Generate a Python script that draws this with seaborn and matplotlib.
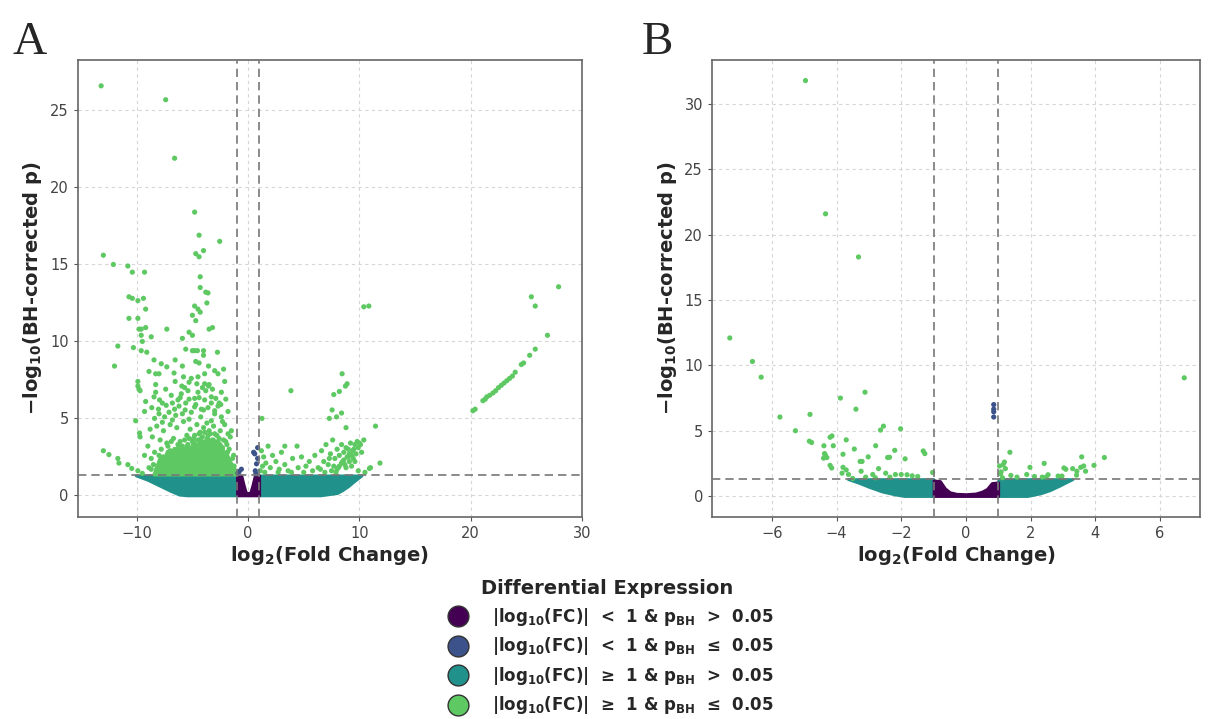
import numpy as np
import pandas as pd
import matplotlib
matplotlib.use("Agg")
import matplotlib.pyplot as plt
from matplotlib.lines import Line2D
import seaborn as sns

sns.set_theme(style="ticks")
plt.rcParams['font.family'] = ['DejaVu Sans']
plt.rcParams['mathtext.default'] = 'bf'

# ---------------- categories / colours ----------------
categories = ["ns_small", "sig_small", "ns_large", "sig_large"]
colors = ["#440154", "#3b528b", "#21918c", "#5ec962"]
legend_labels = [
    "|log$_{10}$(FC)|  <  1 & p$_{BH}$  >  0.05",
    "|log$_{10}$(FC)|  <  1 & p$_{BH}$  \u2264  0.05",
    "|log$_{10}$(FC)|  \u2265  1 & p$_{BH}$  >  0.05",
    "|log$_{10}$(FC)|  \u2265  1 & p$_{BH}$  \u2264  0.05",
]
p_threshold_line = 1.301  # -log10(0.05)
fc_threshold = 1.0

# ---------------- Panel A data ----------------
a_green_x = [-13.2, -7.4, -6.6, -4.8, -4.4, -2.55, -4.0, -4.7, -4.4, -13.0, -12.1, -10.8, -10.4, -9.3,
             -4.3, -4.3, -3.8, -3.6, -10.7, -10.4, -9.9, -9.4, -3.7, -4.8, -9.2, -4.5, -4.3, -5.0, -4.7,
             -10.7, -9.9, -3.5, -3.2, -7.3, -9.8, -9.6, -9.2, -9.6, -11.7, -10.3, -9.5, -8.7, -5.9, -5.3,
             -5.0, -9.6, -9.1, -5.6, -5.0, -4.8, -4.55, -4.0, -4.0, -2.75, -4.7, -4.4, -12.0, -8.45, -7.8,
             -7.3, -6.55, -5.9, -3.55, -3.0, -2.2, -8.9, -8.3, -8.0, -6.65, -5.8, -5.1, -4.5, -3.9, -2.7,
             -2.1, -9.9, -9.9, -9.8, -9.7, -8.3, -6.55, -5.95, -5.3, -4.6, -3.9, -3.55, -2.4, -2.0, -9.2,
             -8.45, -7.95, -6.9, -6.1, -5.3, -4.4, -3.3, -2.45, -9.3, -8.65, -8.05, -7.35, -6.6, -5.65,
             -4.8, -4.0, -3.0, -1.8, -10.1, -9.75, -9.7, -8.4, -7.7, -6.8, -5.3, -4.25, -3.3, -2.3, -1.5,
             -13.0, -12.5, -11.7, -11.6, -10.8, -10.45, -9.9, -9.5, -8.7, -8.2,
             -8.2, -7.9, -7.6, -7.3, -7.0, -6.7, -6.4, -6.1, -5.8, -5.5, -5.2, -4.9, -4.6, -4.3, -4.0,
             -3.7, -3.4, -3.1, -2.8, -2.5, -2.2, -1.9, -1.6, -1.3,
             -8.0, -7.5, -7.1, -6.5, -6.2, -5.9, -5.6, -5.1, -4.7, -4.2, -3.9, -3.6, -3.3, -3.0, -2.7,
             -2.4, -2.1, -1.8, -8.8, -8.6, -9.0, -8.4, -8.7, -9.3, -8.1, -8.9,
             -6.8, -6.0, -5.4, -4.5, -4.1, -3.8, -3.5, -3.2, -2.9, -2.6, -4.8, -5.7, -6.3, -7.7, -8.3, -7.4,
             -7.8, -7.2, -6.9, -6.3, -5.7, -5.3, -4.8, -4.4, -3.9, -3.5, -3.0, -2.6, -2.0, -1.7, -1.4,
             -8.5, -8.0, -7.6, -7.0, -6.4, -5.9, -5.4, -5.0, -4.5, -4.1, -3.6, -3.2, -2.7, -2.3, -1.85, -1.25,
             1.25, 3.85, 8.45, 8.9, 8.75, 7.7, 8.2, 7.55, 8.4, 7.3, 7.95, 8.8, 11.45, 10.4, 10.85, 11.85, 10.9,
             1.2, 1.4, 1.6, 1.8, 2.0, 2.2, 2.5, 2.8, 3.0, 3.3, 3.6, 4.0, 4.4, 4.8, 5.2, 5.5, 5.8, 6.0,
             6.3, 6.6, 6.8, 7.0, 7.2, 7.4, 7.6, 7.8, 8.0, 8.2, 8.4, 8.6, 8.8, 9.0, 9.2, 9.4, 9.6, 9.8,
             10.0, 10.4, 7.5, 8.1, 8.7, 9.3, 9.9, 10.5, 6.9, 1.1, 1.3, 1.5, 2.7, 3.9, 5.0, 8.5, 9.1, 7.3,
             6.5, 11.0, 3.3, 4.5,
             7.9, 8.2, 8.4, 8.6, 8.9, 9.1, 9.3, 9.5, 9.7, 9.9, 10.1, 8.0, 8.8, 9.6, 10.2, 7.7, 9.0, 9.45,
             20.2, 20.4, 21.1, 21.3, 21.45, 21.7, 22.0, 22.25, 22.5, 22.75, 23.0, 23.25, 23.5, 23.75, 24.0,
             24.55, 24.75, 25.3, 25.8, 26.9, 25.45, 25.8, 27.9]
a_green_y = [26.6, 25.7, 21.9, 18.4, 16.9, 16.5, 15.9, 15.7, 15.5, 15.6, 15.0, 14.9, 14.5, 14.5,
             14.2, 13.5, 13.2, 13.15, 12.9, 12.8, 12.65, 12.8, 12.5, 12.3, 12.1, 12.1, 11.9, 11.7, 11.35,
             11.5, 11.5, 10.8, 10.9, 10.8, 10.8, 10.8, 10.9, 10.4, 9.7, 9.6, 10.0, 10.3, 10.2, 10.6,
             10.4, 9.4, 9.3, 9.5, 9.4, 9.4, 9.4, 9.1, 9.4, 9.3, 8.7, 8.6, 8.4, 8.8, 8.55,
             8.35, 8.8, 8.4, 8.4, 8.1, 8.2, 8.05, 7.9, 7.9, 7.95, 7.7, 7.6, 7.7, 7.9, 7.9,
             7.4, 7.4, 7.1, 6.9, 6.8, 7.2, 7.4, 7.1, 7.35, 7.25, 7.25, 7.1, 6.7, 6.25, 6.1,
             6.4, 6.2, 6.5, 6.35, 6.25, 6.35, 6.0, 5.9, 5.45, 5.7, 5.6, 5.85, 5.6, 5.55,
             5.75, 5.55, 5.5, 5.45, 4.85, 4.05, 3.8, 5.0, 4.75, 4.9, 4.95, 5.1, 4.85, 4.8, 4.2,
             2.9, 2.65, 2.4, 2.1, 2.0, 1.75, 1.6, 1.43, 1.7, 1.7,
             4.5, 3.6, 4.2, 3.4, 4.6, 3.7, 4.4, 3.5, 4.8, 3.9, 4.3, 3.7, 4.6, 4.1, 4.4,
             4.7, 4.0, 4.5, 3.9, 4.2, 3.6, 3.3, 3.8, 2.6,
             5.3, 5.1, 5.4, 5.2, 5.8, 5.3, 6.0, 5.4, 5.9, 5.6, 6.2, 5.7, 6.4, 5.3, 5.8,
             5.1, 4.6, 4.0, 4.3, 3.8, 3.2, 2.8, 2.4, 2.6, 1.9, 1.8,
             6.0, 6.6, 6.8, 6.7, 7.0, 6.8, 7.2, 6.9, 6.3, 6.0, 6.3, 7.0, 6.2, 6.0, 6.7, 6.9,
             3.0, 3.2, 3.5, 3.3, 3.6, 3.7, 3.9, 4.0, 4.1, 4.2, 4.0, 3.7, 3.5, 3.0, 2.4,
             2.0, 2.6, 2.5, 2.9, 3.0, 3.2, 3.3, 3.5, 3.6, 3.8, 3.9, 3.6, 3.5, 3.1, 2.8, 1.9,
             5.0, 6.8, 7.9, 7.25, 7.1, 6.55, 6.75, 5.55, 5.35, 5.0, 5.1, 4.4, 4.5, 12.25, 12.3, 2.1, 1.75,
             2.9, 2.5, 2.1, 3.2, 1.8, 2.6, 2.2, 1.7, 2.8, 2.0, 1.6, 2.4, 3.2, 2.5, 1.9, 2.2, 1.6, 2.6,
             1.8, 2.9, 2.2, 3.3, 2.0, 2.7, 3.6, 2.4, 3.0, 2.6, 3.3, 2.8, 3.1, 2.5, 3.4, 2.9, 3.3, 3.5,
             3.4, 3.6, 1.6, 1.8, 2.0, 1.9, 1.6, 1.5, 1.5, 1.6, 1.9, 1.5, 1.5, 1.5, 1.5, 2.2, 2.7, 2.4,
             1.7, 1.8, 3.2, 1.8,
             1.5, 1.9, 2.1, 2.3, 2.5, 2.2, 2.6, 3.0, 2.7, 3.1, 3.3, 1.7, 1.8, 2.2, 2.8, 1.9, 3.0, 2.4,
             5.5, 5.6, 6.15, 6.25, 6.4, 6.5, 6.65, 6.8, 7.0, 7.15, 7.3, 7.45, 7.6, 7.75, 8.0,
             8.5, 8.6, 9.1, 9.5, 10.4, 12.9, 12.3, 13.55]
a_blue_x = [-0.8, -0.6, -0.9, 0.6, 0.5, 0.86, 0.76, 0.65, 0.86, 0.7]
a_blue_y = [1.55, 1.7, 1.45, 2.7, 2.8, 3.1, 2.05, 1.6, 2.4, 1.4]

# dense regions of panel A (envelopes)
a_teal_left_x = [-10.1, -9.0, -8.0, -7.0, -6.2, -5.5, -1.05]
a_teal_left_lo = [1.3, 1.0, 0.65, 0.3, 0.05, 0.0, 0.0]
a_teal_right_x = [1.05, 6.5, 7.0, 7.5, 8.0, 8.5, 9.0, 9.5, 10.2]
a_teal_right_lo = [0.0, 0.0, 0.05, 0.1, 0.15, 0.35, 0.6, 0.9, 1.3]
a_purple_x = [-1.0, -0.6, -0.4, -0.2, 0.0, 0.2, 0.4, 0.6, 1.0]
a_purple_hi = [1.3, 1.3, 0.7, 0.2, 0.15, 0.2, 0.7, 1.3, 1.3]
a_green_core_x = [-8.5, -8.2, -7.9, -7.6, -7.3, -7.0, -6.7, -6.4, -6.1, -5.8, -5.5, -5.2, -4.9,
                  -4.6, -4.3, -4.0, -3.7, -3.4, -3.1, -2.8, -2.5, -2.2, -1.9, -1.6, -1.3, -1.1]
a_green_core_hi = [1.4, 2.0, 2.6, 2.3, 2.9, 2.6, 3.1, 2.7, 3.3, 2.9, 3.4, 3.0, 3.6,
                   3.2, 3.8, 3.4, 3.9, 3.5, 3.7, 3.2, 3.4, 2.9, 2.7, 2.2, 1.9, 1.4]

# ---------------- Panel B data ----------------
b_green_x = [-4.96, -4.34, -3.32, -7.3, -6.6, -6.33, 6.75, -3.88, -3.12, -3.4, -4.82, -5.75, -5.27,
             -2.55, -2.64, -2.02, -4.2, -4.14, -4.84, -4.77, -3.7, -4.39, -4.1, -2.79, -3.45, -2.2,
             -1.32, -1.27, -4.37, -4.35, -4.3, -4.4, -3.8, -3.02, -2.42, -2.36, -1.88, -3.27, -3.21,
             -4.2, -4.15, -3.8, -3.7, -2.7, -3.24, -2.48, -3.83, -3.63, -2.88, -2.18, -2.0, -1.82,
             -1.66, -1.49, -1.03, -3.5, -3.1, -2.8, -2.35,
             1.36, 1.19, 1.15, 1.04, 1.22, 1.09, 1.07, 1.98, 2.42, 3.58, 4.28, 3.96, 3.55, 3.64, 3.03,
             3.09, 3.3, 3.43, 3.7, 3.42, 1.88, 2.12, 2.48, 2.36, 2.54, 2.85, 2.97, 1.39, 1.58, 1.13]
b_green_y = [31.8, 21.6, 18.3, 12.1, 10.3, 9.1, 9.05, 7.5, 7.95, 6.65, 6.25, 6.05, 5.0,
             5.35, 5.05, 5.15, 4.5, 4.6, 4.2, 4.1, 4.3, 3.85, 3.85, 3.85, 3.6, 3.5,
             3.45, 3.25, 3.25, 3.15, 2.95, 2.9, 3.2, 3.0, 2.95, 2.97, 2.85, 2.65, 2.65,
             2.35, 2.15, 2.2, 2.0, 2.1, 1.9, 1.75, 1.75, 1.65, 1.65, 1.65, 1.65, 1.63,
             1.55, 1.5, 1.8, 1.35, 1.45, 1.4, 1.45,
             3.35, 2.6, 2.4, 2.3, 2.1, 1.85, 1.7, 2.2, 2.5, 3.0, 2.95, 2.35, 2.2, 2.3, 2.15,
             2.05, 2.1, 1.9, 1.9, 1.6, 1.65, 1.5, 1.45, 1.45, 1.63, 1.53, 1.53, 1.58, 1.45, 1.4]
b_blue_x = [0.86, 0.86, 0.86, 0.86]
b_blue_y = [7.0, 6.65, 6.45, 6.05]

b_teal_left_x = [-3.65, -3.3, -3.0, -2.6, -2.2, -1.9, -1.0]
b_teal_left_lo = [1.3, 1.0, 0.7, 0.35, 0.12, 0.0, 0.0]
b_teal_right_x = [1.0, 1.9, 2.3, 2.6, 2.9, 3.1, 3.3]
b_teal_right_lo = [0.0, 0.0, 0.2, 0.45, 0.8, 1.05, 1.3]
b_purple_x = [-1.0, -0.8, -0.65, -0.5, -0.3, 0.0, 0.3, 0.5, 0.65, 0.8, 1.0]
b_purple_hi = [1.2, 1.15, 0.6, 0.3, 0.18, 0.15, 0.2, 0.35, 0.55, 1.0, 1.05]


def make_df(gx, gy, bx, by):
    xs = list(gx) + list(bx)
    ys = list(gy) + list(by)
    cats = [categories[3]] * len(gx) + [categories[1]] * len(bx)
    return pd.DataFrame({"x": xs, "y": ys, "cat": cats})


fig = plt.figure(figsize=(12.15, 7.19), dpi=100)
axA = fig.add_axes([0.064, 0.281, 0.415, 0.636])
axB = fig.add_axes([0.586, 0.281, 0.402, 0.636])

pal = dict(zip(categories, colors))


def draw_band(ax, x, lo, hi, color):
    ax.fill_between(x, lo, hi, color=color, lw=2.0, edgecolor=color, zorder=2)


# Panel A dense regions
draw_band(axA, a_teal_left_x, a_teal_left_lo, [1.3] * len(a_teal_left_x), colors[2])
draw_band(axA, a_teal_right_x, a_teal_right_lo, [1.3] * len(a_teal_right_x), colors[2])
draw_band(axA, a_purple_x, [0.0] * len(a_purple_x), a_purple_hi, colors[0])
draw_band(axA, a_green_core_x, [1.35] * len(a_green_core_x), a_green_core_hi, colors[3])

# Panel B dense regions
draw_band(axB, b_teal_left_x, b_teal_left_lo, [1.3] * len(b_teal_left_x), colors[2])
draw_band(axB, b_teal_right_x, b_teal_right_lo, [1.3] * len(b_teal_right_x), colors[2])
draw_band(axB, b_purple_x, [0.0] * len(b_purple_x), b_purple_hi, colors[0])

dfA = make_df(a_green_x, a_green_y, a_blue_x, a_blue_y)
dfB = make_df(b_green_x, b_green_y, b_blue_x, b_blue_y)

for ax, df in [(axA, dfA), (axB, dfB)]:
    sns.scatterplot(data=df, x="x", y="y", hue="cat", palette=pal, s=14,
                    linewidth=0, legend=False, ax=ax, zorder=3)

for ax in (axA, axB):
    ax.axhline(p_threshold_line, color="#777777", ls=(0, (5, 3)), lw=1.2, zorder=4)
    ax.axvline(-fc_threshold, color="#777777", ls=(0, (5, 3)), lw=1.2, zorder=4)
    ax.axvline(fc_threshold, color="#777777", ls=(0, (5, 3)), lw=1.2, zorder=4)
    ax.grid(True, color="#d6d6d6", ls=(0, (3, 3)), lw=0.8, zorder=0)
    ax.set_axisbelow(True)
    for sp in ax.spines.values():
        sp.set_color("#666666")
        sp.set_linewidth(1.2)
    ax.tick_params(colors="#555555", labelcolor="#444444", labelsize=10.5, length=3, width=0.8)
    ax.set_xlabel("log$_2$(Fold Change)", fontsize=14, fontweight="bold", labelpad=2)
    ax.set_ylabel("\u2212log$_{10}$(BH-corrected p)", fontsize=14, fontweight="bold", labelpad=4)

axA.set_xlim(-15.3, 30.0)
axA.set_ylim(-1.4, 28.3)
axA.set_xticks([-10, 0, 10, 20, 30])
axA.set_yticks([0, 5, 10, 15, 20, 25])

axB.set_xlim(-7.85, 7.25)
axB.set_ylim(-1.6, 33.4)
axB.set_xticks([-6, -4, -2, 0, 2, 4, 6])
axB.set_yticks([0, 5, 10, 15, 20, 25, 30])

fig.text(0.010, 0.925, "A", fontsize=34, family="Liberation Serif")
fig.text(0.528, 0.925, "B", fontsize=34, family="Liberation Serif")

handles = [Line2D([0], [0], marker="o", ls="", markersize=15, markerfacecolor=c,
                  markeredgecolor="#333333", markeredgewidth=1.0) for c in colors]
leg = fig.legend(handles, legend_labels, loc="upper center", bbox_to_anchor=(0.5, 0.215),
                 frameon=False, title="Differential Expression",
                 prop={"weight": "bold", "size": 12}, labelspacing=0.45, handletextpad=1.0)
leg.get_title().set_fontweight("bold")
leg.get_title().set_fontsize(14)

fig.savefig("out.png", dpi=100)
